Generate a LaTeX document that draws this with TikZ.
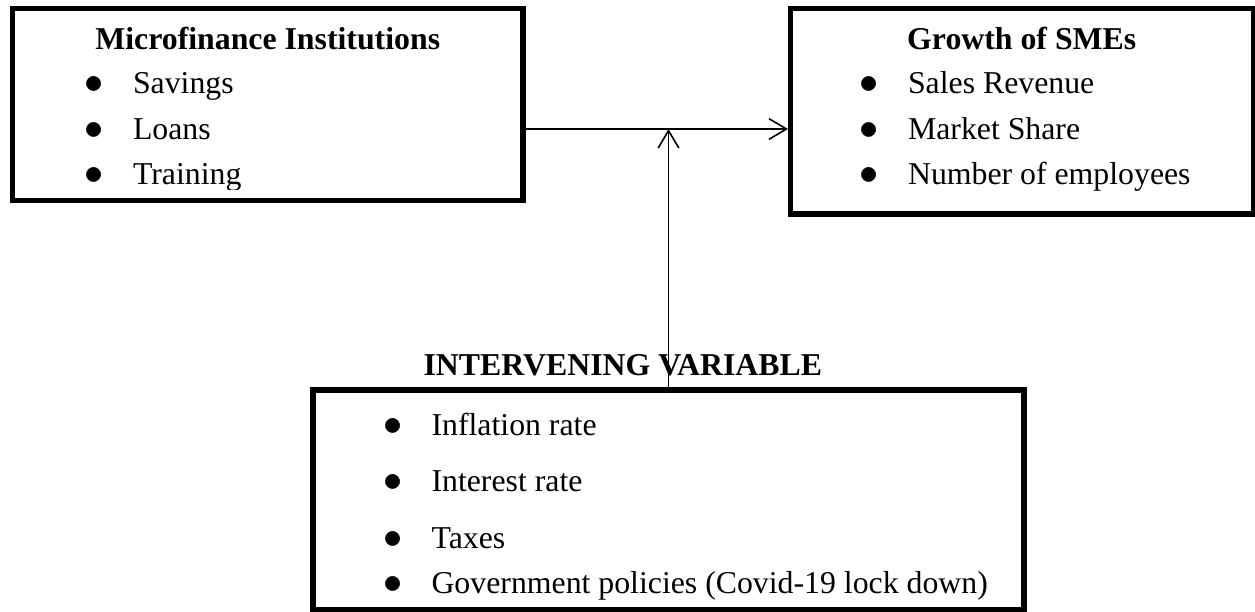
\documentclass[tikz,border=0pt]{standalone}
\usepackage{fontspec}
\setmainfont{Liberation Serif}
\usetikzlibrary{arrows.meta}

\tikzset{
	box/.style={draw, line width=1.9pt, inner sep=0pt},
	txt/.style={anchor=base west, inner sep=0pt, font=\fontsize{12}{14}\selectfont},
	head/.style={anchor=base, inner sep=0pt, font=\fontsize{12}{14}\selectfont\bfseries},
	arr/.style={line width=0.6pt, -{Straight Barb[length=6.6pt,width=7.8pt]}}
}
\newcommand{\itm}[1]{\makebox[18.3pt][l]{\fontsize{14}{14}\selectfont$\bullet$}#1}

\begin{document}
\begin{tikzpicture}[x=0.37736pt, y=-0.37736pt]
	\useasboundingbox (0,0) rectangle (1255,611);

	\node[box, minimum width=192.64pt, minimum height=72.45pt] (mfi) at (267.75,104.5) {};
	\node[head] (mfiTitle) at (267.75,49.5) {Microfinance Institutions};
	\begin{scope}
		\clip (12.5,8.5) rectangle (523,189);
		\node[txt] (sav) at (84,93.5) {\itm{Savings}};
		\node[txt] (loan) at (84,139) {\itm{Loans}};
		\node[txt] (train) at (84,184.5) {\itm{Training}};
	\end{scope}

	\node[box, minimum width=174.53pt, minimum height=77.55pt] (sme) at (1021.75,111.25) {};
	\node[head] (smeTitle) at (1021.75,49.5) {Growth of SMEs};
	\node[txt] (sales) at (859,93.5) {\itm{Sales Revenue}};
	\node[txt] (share) at (859,139) {\itm{Market Share}};
	\node[txt] (staff) at (859,184.5) {\itm{Number of employees}};

	\node[box, minimum width=268.3pt, minimum height=82.83pt] (iv) at (668.5,499.75) {};
	\node[txt, font=\fontsize{12}{14}\selectfont\bfseries] (ivTitle) at (423,375) {INTERVENING VARIABLE};
	\node[txt] (infl) at (382.5,435) {\itm{Inflation rate}};
	\node[txt] (rate) at (382.5,491.7) {\itm{Interest rate}};
	\node[txt] (tax) at (382.5,548) {\itm{Taxes}};
	\node[txt] (gov) at (382.5,593) {\itm{Government policies (Covid-19 lock down)}};

	\coordinate (join) at (668.5,129);
	\draw[arr] (mfi.east |- join) -- (sme.west |- join);
	\draw[arr] (iv.north -| join) -- (join);
\end{tikzpicture}
\end{document}
